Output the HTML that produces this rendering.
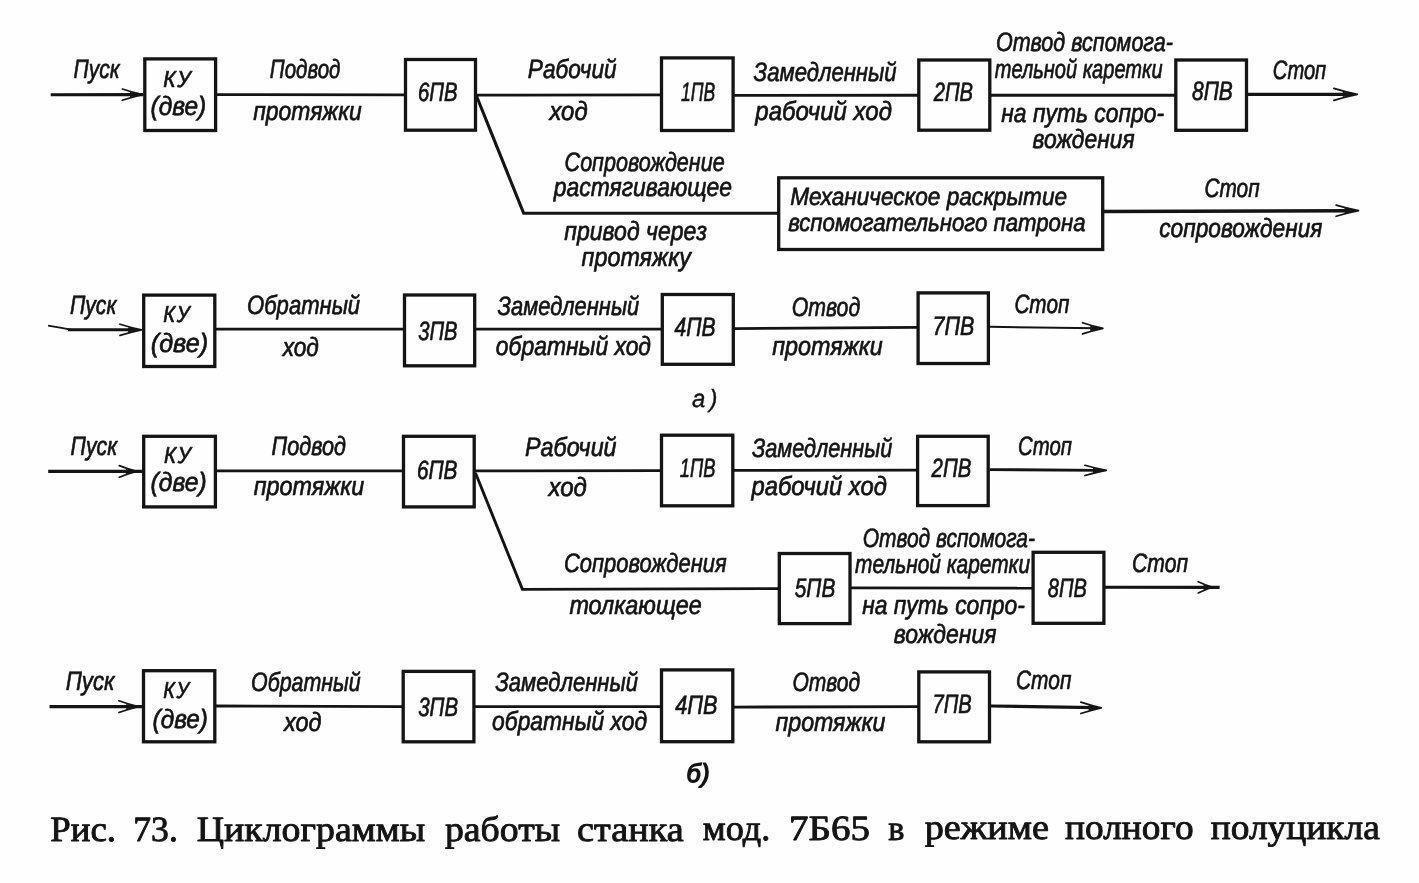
<!DOCTYPE html>
<html lang="ru">
<head>
<meta charset="utf-8">
<title>Рис. 73. Циклограммы работы станка мод. 7Б65</title>
<style>
html,body{margin:0;padding:0;background:#fefefe;}
body{width:1419px;height:883px;overflow:hidden;}
svg{display:block;filter:blur(0.45px);}
</style>
</head>
<body>
<svg width="1419" height="883" viewBox="0 0 1419 883" text-rendering="geometricPrecision">
<rect x="0" y="0" width="1419" height="883" fill="#fefefe"/>
<g fill="none" stroke="#141414" stroke-linejoin="miter" stroke-linecap="butt">
<rect x="144.8" y="58.9" width="70.8" height="71.6" stroke-width="3.3"/>
<rect x="405.5" y="59.5" width="70.0" height="70.7" stroke-width="3.3"/>
<rect x="661.5" y="57.9" width="71.6" height="72.6" stroke-width="3.3"/>
<rect x="918.8" y="60.0" width="71.0" height="70.2" stroke-width="3.3"/>
<rect x="1175.8" y="60.0" width="70.7" height="70.3" stroke-width="3.3"/>
<rect x="778.7" y="177.8" width="324.0" height="71.7" stroke-width="3.3"/>
<rect x="143.7" y="295.1" width="71.1" height="71.4" stroke-width="3.3"/>
<rect x="404.5" y="295.0" width="70.2" height="70.8" stroke-width="3.3"/>
<rect x="662.3" y="294.5" width="71.0" height="69.8" stroke-width="3.3"/>
<rect x="918.1" y="292.9" width="70.3" height="70.6" stroke-width="3.3"/>
<rect x="143.7" y="436.3" width="71.7" height="70.6" stroke-width="3.3"/>
<rect x="403.5" y="436.3" width="70.7" height="70.6" stroke-width="3.3"/>
<rect x="661.5" y="435.2" width="71.3" height="70.6" stroke-width="3.3"/>
<rect x="917.6" y="436.3" width="70.6" height="69.3" stroke-width="3.3"/>
<rect x="779.3" y="553.5" width="70.7" height="70.1" stroke-width="3.3"/>
<rect x="1033.1" y="552.3" width="70.8" height="71.0" stroke-width="3.3"/>
<rect x="143.5" y="670.7" width="71.3" height="71.1" stroke-width="3.3"/>
<rect x="403.2" y="671.4" width="70.7" height="70.4" stroke-width="3.3"/>
<rect x="661.5" y="669.9" width="71.3" height="71.8" stroke-width="3.3"/>
<rect x="918.8" y="671.9" width="70.7" height="69.9" stroke-width="3.3"/>
<polyline points="50.7,94.8 143.0,94.6" stroke-width="3.1"/>
<polyline points="216.0,94.6 405.0,94.8" stroke-width="2.8"/>
<polyline points="476.0,95.1 661.0,94.8" stroke-width="2.8"/>
<polyline points="733.0,95.4 918.0,95.3" stroke-width="2.9"/>
<polyline points="990.0,95.3 1175.0,95.3" stroke-width="2.9"/>
<polyline points="1247.0,94.4 1352.0,94.4" stroke-width="3.3"/>
<polyline points="476.3,95.5 523.7,213.3 778.0,213.3" stroke-width="3.1"/>
<polyline points="1103.4,211.6 1350.0,210.8" stroke-width="3.5"/>
<polyline points="48.1,325.6 60.0,327.6 71.0,329.6" stroke-width="1.8"/>
<polyline points="68.0,329.7 136.0,329.8" stroke-width="2.9"/>
<polyline points="215.6,329.1 404.0,329.1" stroke-width="2.9"/>
<polyline points="475.5,329.1 661.5,329.1" stroke-width="2.9"/>
<polyline points="734.0,328.6 918.0,327.3" stroke-width="2.8"/>
<polyline points="989.6,326.8 1097.0,328.2" stroke-width="2.0"/>
<polyline points="48.2,471.4 143.0,471.4" stroke-width="3.1"/>
<polyline points="216.0,470.9 403.0,470.9" stroke-width="2.8"/>
<polyline points="475.0,470.9 661.0,470.6" stroke-width="2.8"/>
<polyline points="733.6,470.4 917.0,470.2" stroke-width="2.8"/>
<polyline points="989.6,469.6 1100.0,470.4" stroke-width="2.9"/>
<polyline points="475.5,473.0 522.4,589.4 778.5,588.6" stroke-width="2.9"/>
<polyline points="850.8,587.8 1033.5,588.2" stroke-width="2.8"/>
<polyline points="1105.0,587.2 1219.6,587.4" stroke-width="3.1"/>
<polyline points="49.5,706.6 143.0,706.6" stroke-width="3.3"/>
<polyline points="215.6,706.0 402.4,706.6" stroke-width="2.9"/>
<polyline points="474.7,706.6 660.7,706.6" stroke-width="2.9"/>
<polyline points="733.6,707.1 918.0,706.6" stroke-width="2.8"/>
<polyline points="990.3,706.0 1095.0,707.6" stroke-width="3.1"/>
</g>
<g fill="#141414" stroke="#141414" stroke-width="1.7" stroke-linecap="round" stroke-linejoin="round">
<path d="M122.3,89.0 Q133.5,92.6 142.7,94.6 Q133.5,96.6 122.3,100.2" fill="none"/>
<path d="M130.1,92.0 L142.7,94.6 L130.1,97.2 Z" stroke="none"/>
<path d="M1333.9,88.4 Q1346.8,92.3 1357.3,94.4 Q1346.8,96.5 1333.9,100.4" fill="none"/>
<path d="M1342.8,91.8 L1357.3,94.4 L1342.8,97.0 Z" stroke="none"/>
<path d="M1336.1,205.1 Q1348.4,208.7 1358.5,210.7 Q1348.4,212.7 1336.1,216.3" fill="none"/>
<path d="M1344.6,208.1 L1358.5,210.7 L1344.6,213.3 Z" stroke="none"/>
<path d="M120.0,324.2 Q131.8,327.8 141.4,329.8 Q131.8,331.8 120.0,335.4" fill="none"/>
<path d="M128.1,327.2 L141.4,329.8 L128.1,332.4 Z" stroke="none"/>
<path d="M1082.5,322.7 Q1093.7,326.3 1102.9,328.3 Q1093.7,330.3 1082.5,333.9" fill="none"/>
<path d="M1090.3,325.7 L1102.9,328.3 L1090.3,330.9 Z" stroke="none"/>
<path d="M119.3,465.6 Q128.9,469.4 136.7,471.4 Q128.9,473.4 119.3,477.2" fill="none"/>
<path d="M125.9,468.8 L136.7,471.4 L125.9,474.0 Z" stroke="none"/>
<path d="M1084.9,465.3 Q1096.7,468.6 1106.3,470.4 Q1096.7,472.2 1084.9,475.5" fill="none"/>
<path d="M1093.0,467.8 L1106.3,470.4 L1093.0,473.0 Z" stroke="none"/>
<path d="M1198.2,581.7 Q1206.1,585.3 1212.6,587.3 Q1206.1,589.3 1198.2,592.9" fill="none"/>
<path d="M1203.7,584.7 L1212.6,587.3 L1203.7,589.9 Z" stroke="none"/>
<path d="M118.9,700.7 Q129.6,704.5 138.3,706.6 Q129.6,708.7 118.9,712.5" fill="none"/>
<path d="M126.3,704.0 L138.3,706.6 L126.3,709.2 Z" stroke="none"/>
<path d="M1080.8,702.1 Q1092.0,705.8 1101.2,707.8 Q1092.0,709.8 1080.8,713.5" fill="none"/>
<path d="M1088.6,705.2 L1101.2,707.8 L1088.6,710.4 Z" stroke="none"/>
</g>
<g fill="#141414" opacity="0.999" stroke-linejoin="round">
<text transform="translate(73.60,77.70) scale(0.7915,1)" font-family='"Liberation Sans", sans-serif' font-size="26.5" font-style="italic" stroke="#141414" stroke-width="0.7" xml:space="preserve">Пуск</text>
<text transform="translate(163.14,86.80) scale(0.9125,1)" font-family='"Liberation Sans", sans-serif' font-size="23" font-style="italic" letter-spacing="2" stroke="#141414" stroke-width="0.7" xml:space="preserve">КУ</text>
<text transform="translate(150.58,114.60) scale(0.9224,1)" font-family='"Liberation Sans", sans-serif' font-size="26.5" font-style="italic" stroke="#141414" stroke-width="0.7" xml:space="preserve">(две)</text>
<text transform="translate(269.81,78.40) scale(0.7734,1)" font-family='"Liberation Sans", sans-serif' font-size="26.5" font-style="italic" stroke="#141414" stroke-width="0.7" xml:space="preserve">Подвод</text>
<text transform="translate(253.20,119.70) scale(0.8647,1)" font-family='"Liberation Sans", sans-serif' font-size="26.5" font-style="italic" stroke="#141414" stroke-width="0.7" xml:space="preserve">протяжки</text>
<text transform="translate(417.94,101.40) scale(0.7658,1)" font-family='"Liberation Sans", sans-serif' font-size="26.5" font-style="italic" stroke="#141414" stroke-width="0.7" xml:space="preserve">6ПВ</text>
<text transform="translate(527.87,78.40) scale(0.8523,1)" font-family='"Liberation Sans", sans-serif' font-size="26.5" font-style="italic" stroke="#141414" stroke-width="0.7" xml:space="preserve">Рабочий</text>
<text transform="translate(549.43,120.20) scale(0.9023,1)" font-family='"Liberation Sans", sans-serif' font-size="26.5" font-style="italic" stroke="#141414" stroke-width="0.7" xml:space="preserve">ход</text>
<text transform="translate(681.03,100.90) scale(0.6621,1)" font-family='"Liberation Sans", sans-serif' font-size="26.5" font-style="italic" stroke="#141414" stroke-width="0.7" xml:space="preserve">1ПВ</text>
<text transform="translate(753.60,80.60) scale(0.8345,1)" font-family='"Liberation Sans", sans-serif' font-size="26.5" font-style="italic" stroke="#141414" stroke-width="0.7" xml:space="preserve">Замедленный</text>
<text transform="translate(755.31,119.80) scale(0.9058,1)" font-family='"Liberation Sans", sans-serif' font-size="26.5" font-style="italic" stroke="#141414" stroke-width="0.7" xml:space="preserve">рабочий ход</text>
<text transform="translate(933.68,101.10) scale(0.7631,1)" font-family='"Liberation Sans", sans-serif' font-size="26.5" font-style="italic" stroke="#141414" stroke-width="0.7" xml:space="preserve">2ПВ</text>
<text transform="translate(995.89,50.90) scale(0.8129,1)" font-family='"Liberation Sans", sans-serif' font-size="26.5" font-style="italic" stroke="#141414" stroke-width="0.7" xml:space="preserve">Отвод вспомога-</text>
<text transform="translate(994.70,78.40) scale(0.7567,1)" font-family='"Liberation Sans", sans-serif' font-size="26.5" font-style="italic" stroke="#141414" stroke-width="0.7" xml:space="preserve">тельной каретки</text>
<text transform="translate(1001.30,121.70) scale(0.8621,1)" font-family='"Liberation Sans", sans-serif' font-size="26.5" font-style="italic" stroke="#141414" stroke-width="0.7" xml:space="preserve">на путь сопро-</text>
<text transform="translate(1032.58,147.90) scale(0.8610,1)" font-family='"Liberation Sans", sans-serif' font-size="26.5" font-style="italic" stroke="#141414" stroke-width="0.7" xml:space="preserve">вождения</text>
<text transform="translate(1192.00,99.60) scale(0.7901,1)" font-family='"Liberation Sans", sans-serif' font-size="26.5" font-style="italic" stroke="#141414" stroke-width="0.7" xml:space="preserve">8ПВ</text>
<text transform="translate(1272.85,78.60) scale(0.7593,1)" font-family='"Liberation Sans", sans-serif' font-size="26.5" font-style="italic" stroke="#141414" stroke-width="0.7" xml:space="preserve">Стоп</text>
<text transform="translate(564.58,170.50) scale(0.8123,1)" font-family='"Liberation Sans", sans-serif' font-size="26.5" font-style="italic" stroke="#141414" stroke-width="0.7" xml:space="preserve">Сопровождение</text>
<text transform="translate(553.86,196.30) scale(0.8634,1)" font-family='"Liberation Sans", sans-serif' font-size="26.5" font-style="italic" stroke="#141414" stroke-width="0.7" xml:space="preserve">растягивающее</text>
<text transform="translate(564.30,239.70) scale(0.8691,1)" font-family='"Liberation Sans", sans-serif' font-size="26.5" font-style="italic" stroke="#141414" stroke-width="0.7" xml:space="preserve">привод через</text>
<text transform="translate(581.60,266.10) scale(0.8811,1)" font-family='"Liberation Sans", sans-serif' font-size="26.5" font-style="italic" stroke="#141414" stroke-width="0.7" xml:space="preserve">протяжку</text>
<text transform="translate(790.25,204.70) scale(0.9043,1)" font-family='"Liberation Sans", sans-serif' font-size="25" font-style="italic" stroke="#141414" stroke-width="0.7" xml:space="preserve">Механическое раскрытие</text>
<text transform="translate(788.18,231.40) scale(0.8874,1)" font-family='"Liberation Sans", sans-serif' font-size="25" font-style="italic" stroke="#141414" stroke-width="0.7" xml:space="preserve">вспомогательного патрона</text>
<text transform="translate(1204.42,196.50) scale(0.7855,1)" font-family='"Liberation Sans", sans-serif' font-size="26.5" font-style="italic" stroke="#141414" stroke-width="0.7" xml:space="preserve">Стоп</text>
<text transform="translate(1159.27,237.40) scale(0.8559,1)" font-family='"Liberation Sans", sans-serif' font-size="26.5" font-style="italic" stroke="#141414" stroke-width="0.7" xml:space="preserve">сопровождения</text>
<text transform="translate(69.90,314.00) scale(0.7983,1)" font-family='"Liberation Sans", sans-serif' font-size="26.5" font-style="italic" stroke="#141414" stroke-width="0.7" xml:space="preserve">Пуск</text>
<text transform="translate(163.16,322.10) scale(0.8719,1)" font-family='"Liberation Sans", sans-serif' font-size="23" font-style="italic" letter-spacing="2" stroke="#141414" stroke-width="0.7" xml:space="preserve">КУ</text>
<text transform="translate(150.75,351.80) scale(0.9500,1)" font-family='"Liberation Sans", sans-serif' font-size="26.5" font-style="italic" stroke="#141414" stroke-width="0.7" xml:space="preserve">(две)</text>
<text transform="translate(247.07,314.40) scale(0.8319,1)" font-family='"Liberation Sans", sans-serif' font-size="26.5" font-style="italic" stroke="#141414" stroke-width="0.7" xml:space="preserve">Обратный</text>
<text transform="translate(282.67,355.80) scale(0.8558,1)" font-family='"Liberation Sans", sans-serif' font-size="26.5" font-style="italic" stroke="#141414" stroke-width="0.7" xml:space="preserve">ход</text>
<text transform="translate(418.21,339.70) scale(0.7606,1)" font-family='"Liberation Sans", sans-serif' font-size="26.5" font-style="italic" stroke="#141414" stroke-width="0.7" xml:space="preserve">3ПВ</text>
<text transform="translate(497.60,315.10) scale(0.8263,1)" font-family='"Liberation Sans", sans-serif' font-size="26.5" font-style="italic" stroke="#141414" stroke-width="0.7" xml:space="preserve">Замедленный</text>
<text transform="translate(495.87,354.50) scale(0.8632,1)" font-family='"Liberation Sans", sans-serif' font-size="26.5" font-style="italic" stroke="#141414" stroke-width="0.7" xml:space="preserve">обратный ход</text>
<text transform="translate(674.40,335.50) scale(0.7961,1)" font-family='"Liberation Sans", sans-serif' font-size="26.5" font-style="italic" stroke="#141414" stroke-width="0.7" xml:space="preserve">4ПВ</text>
<text transform="translate(791.70,315.90) scale(0.8024,1)" font-family='"Liberation Sans", sans-serif' font-size="26.5" font-style="italic" stroke="#141414" stroke-width="0.7" xml:space="preserve">Отвод</text>
<text transform="translate(772.20,354.50) scale(0.8806,1)" font-family='"Liberation Sans", sans-serif' font-size="26.5" font-style="italic" stroke="#141414" stroke-width="0.7" xml:space="preserve">протяжки</text>
<text transform="translate(932.47,335.40) scale(0.8103,1)" font-family='"Liberation Sans", sans-serif' font-size="26.5" font-style="italic" stroke="#141414" stroke-width="0.7" xml:space="preserve">7ПВ</text>
<text transform="translate(1014.42,312.60) scale(0.7811,1)" font-family='"Liberation Sans", sans-serif' font-size="26.5" font-style="italic" stroke="#141414" stroke-width="0.7" xml:space="preserve">Стоп</text>
<text transform="translate(691.92,406.50) scale(0.9560,1)" font-family='"Liberation Sans", sans-serif' font-size="25" font-style="italic" letter-spacing="4.5" stroke="#141414" stroke-width="0.4" xml:space="preserve">а)</text>
<text transform="translate(70.60,454.60) scale(0.8000,1)" font-family='"Liberation Sans", sans-serif' font-size="26.5" font-style="italic" stroke="#141414" stroke-width="0.7" xml:space="preserve">Пуск</text>
<text transform="translate(163.96,462.80) scale(0.8875,1)" font-family='"Liberation Sans", sans-serif' font-size="23" font-style="italic" letter-spacing="2" stroke="#141414" stroke-width="0.7" xml:space="preserve">КУ</text>
<text transform="translate(150.57,491.10) scale(0.9310,1)" font-family='"Liberation Sans", sans-serif' font-size="26.5" font-style="italic" stroke="#141414" stroke-width="0.7" xml:space="preserve">(две)</text>
<text transform="translate(271.59,454.70) scale(0.8144,1)" font-family='"Liberation Sans", sans-serif' font-size="26.5" font-style="italic" stroke="#141414" stroke-width="0.7" xml:space="preserve">Подвод</text>
<text transform="translate(253.70,494.70) scale(0.8806,1)" font-family='"Liberation Sans", sans-serif' font-size="26.5" font-style="italic" stroke="#141414" stroke-width="0.7" xml:space="preserve">протяжки</text>
<text transform="translate(416.92,478.80) scale(0.7859,1)" font-family='"Liberation Sans", sans-serif' font-size="26.5" font-style="italic" stroke="#141414" stroke-width="0.7" xml:space="preserve">6ПВ</text>
<text transform="translate(525.06,455.80) scale(0.8794,1)" font-family='"Liberation Sans", sans-serif' font-size="26.5" font-style="italic" stroke="#141414" stroke-width="0.7" xml:space="preserve">Рабочий</text>
<text transform="translate(548.44,495.70) scale(0.9093,1)" font-family='"Liberation Sans", sans-serif' font-size="26.5" font-style="italic" stroke="#141414" stroke-width="0.7" xml:space="preserve">ход</text>
<text transform="translate(679.83,477.40) scale(0.6897,1)" font-family='"Liberation Sans", sans-serif' font-size="26.5" font-style="italic" stroke="#141414" stroke-width="0.7" xml:space="preserve">1ПВ</text>
<text transform="translate(751.90,456.90) scale(0.8193,1)" font-family='"Liberation Sans", sans-serif' font-size="26.5" font-style="italic" stroke="#141414" stroke-width="0.7" xml:space="preserve">Замедленный</text>
<text transform="translate(751.50,495.00) scale(0.8972,1)" font-family='"Liberation Sans", sans-serif' font-size="26.5" font-style="italic" stroke="#141414" stroke-width="0.7" xml:space="preserve">рабочий ход</text>
<text transform="translate(931.58,477.20) scale(0.7689,1)" font-family='"Liberation Sans", sans-serif' font-size="26.5" font-style="italic" stroke="#141414" stroke-width="0.7" xml:space="preserve">2ПВ</text>
<text transform="translate(1018.04,455.20) scale(0.7665,1)" font-family='"Liberation Sans", sans-serif' font-size="26.5" font-style="italic" stroke="#141414" stroke-width="0.7" xml:space="preserve">Стоп</text>
<text transform="translate(563.96,572.40) scale(0.8282,1)" font-family='"Liberation Sans", sans-serif' font-size="26.5" font-style="italic" stroke="#141414" stroke-width="0.7" xml:space="preserve">Сопровождения</text>
<text transform="translate(569.40,614.20) scale(0.8823,1)" font-family='"Liberation Sans", sans-serif' font-size="26.5" font-style="italic" stroke="#141414" stroke-width="0.7" xml:space="preserve">толкающее</text>
<text transform="translate(794.80,597.00) scale(0.7842,1)" font-family='"Liberation Sans", sans-serif' font-size="26.5" font-style="italic" stroke="#141414" stroke-width="0.7" xml:space="preserve">5ПВ</text>
<text transform="translate(862.71,547.00) scale(0.7908,1)" font-family='"Liberation Sans", sans-serif' font-size="26.5" font-style="italic" stroke="#141414" stroke-width="0.7" xml:space="preserve">Отвод вспомога-</text>
<text transform="translate(855.10,573.10) scale(0.7883,1)" font-family='"Liberation Sans", sans-serif' font-size="26.5" font-style="italic" stroke="#141414" stroke-width="0.7" xml:space="preserve">тельной каретки</text>
<text transform="translate(862.20,614.20) scale(0.8615,1)" font-family='"Liberation Sans", sans-serif' font-size="26.5" font-style="italic" stroke="#141414" stroke-width="0.7" xml:space="preserve">на путь сопро-</text>
<text transform="translate(893.78,642.90) scale(0.8661,1)" font-family='"Liberation Sans", sans-serif' font-size="26.5" font-style="italic" stroke="#141414" stroke-width="0.7" xml:space="preserve">вождения</text>
<text transform="translate(1047.81,596.50) scale(0.7567,1)" font-family='"Liberation Sans", sans-serif' font-size="26.5" font-style="italic" stroke="#141414" stroke-width="0.7" xml:space="preserve">8ПВ</text>
<text transform="translate(1132.10,572.40) scale(0.7971,1)" font-family='"Liberation Sans", sans-serif' font-size="26.5" font-style="italic" stroke="#141414" stroke-width="0.7" xml:space="preserve">Стоп</text>
<text transform="translate(65.78,689.60) scale(0.8374,1)" font-family='"Liberation Sans", sans-serif' font-size="26.5" font-style="italic" stroke="#141414" stroke-width="0.7" xml:space="preserve">Пуск</text>
<text transform="translate(163.17,698.10) scale(0.8500,1)" font-family='"Liberation Sans", sans-serif' font-size="23" font-style="italic" letter-spacing="2" stroke="#141414" stroke-width="0.7" xml:space="preserve">КУ</text>
<text transform="translate(152.58,727.90) scale(0.9190,1)" font-family='"Liberation Sans", sans-serif' font-size="26.5" font-style="italic" stroke="#141414" stroke-width="0.7" xml:space="preserve">(две)</text>
<text transform="translate(250.99,690.60) scale(0.8074,1)" font-family='"Liberation Sans", sans-serif' font-size="26.5" font-style="italic" stroke="#141414" stroke-width="0.7" xml:space="preserve">Обратный</text>
<text transform="translate(284.00,730.70) scale(0.8837,1)" font-family='"Liberation Sans", sans-serif' font-size="26.5" font-style="italic" stroke="#141414" stroke-width="0.7" xml:space="preserve">ход</text>
<text transform="translate(418.21,715.90) scale(0.7744,1)" font-family='"Liberation Sans", sans-serif' font-size="26.5" font-style="italic" stroke="#141414" stroke-width="0.7" xml:space="preserve">3ПВ</text>
<text transform="translate(495.30,690.80) scale(0.8327,1)" font-family='"Liberation Sans", sans-serif' font-size="26.5" font-style="italic" stroke="#141414" stroke-width="0.7" xml:space="preserve">Замедленный</text>
<text transform="translate(492.07,729.70) scale(0.8627,1)" font-family='"Liberation Sans", sans-serif' font-size="26.5" font-style="italic" stroke="#141414" stroke-width="0.7" xml:space="preserve">обратный ход</text>
<text transform="translate(675.20,714.00) scale(0.8195,1)" font-family='"Liberation Sans", sans-serif' font-size="26.5" font-style="italic" stroke="#141414" stroke-width="0.7" xml:space="preserve">4ПВ</text>
<text transform="translate(792.41,690.60) scale(0.7940,1)" font-family='"Liberation Sans", sans-serif' font-size="26.5" font-style="italic" stroke="#141414" stroke-width="0.7" xml:space="preserve">Отвод</text>
<text transform="translate(775.50,730.70) scale(0.8750,1)" font-family='"Liberation Sans", sans-serif' font-size="26.5" font-style="italic" stroke="#141414" stroke-width="0.7" xml:space="preserve">протяжки</text>
<text transform="translate(932.60,713.40) scale(0.7588,1)" font-family='"Liberation Sans", sans-serif' font-size="26.5" font-style="italic" stroke="#141414" stroke-width="0.7" xml:space="preserve">7ПВ</text>
<text transform="translate(1016.01,689.30) scale(0.7884,1)" font-family='"Liberation Sans", sans-serif' font-size="26.5" font-style="italic" stroke="#141414" stroke-width="0.7" xml:space="preserve">Стоп</text>
<text transform="translate(686.57,781.90) scale(0.9708,1)" font-family='"Liberation Sans", sans-serif' font-size="26" font-style="italic" letter-spacing="0.5" stroke="#141414" stroke-width="1.4" xml:space="preserve">б)</text>
<text transform="translate(50.18,841.10) scale(1.0377,1)" font-family='"Liberation Serif", serif' font-size="35.5" stroke="#141414" stroke-width="0.9" xml:space="preserve">Рис.</text>
<text transform="translate(133.30,841.10) scale(1.0025,1)" font-family='"Liberation Serif", serif' font-size="35.5" stroke="#141414" stroke-width="0.9" xml:space="preserve">73.</text>
<text transform="translate(196.67,841.00) scale(1.0664,1)" font-family='"Liberation Serif", serif' font-size="35.5" stroke="#141414" stroke-width="0.9" xml:space="preserve">Циклограммы</text>
<text transform="translate(444.93,840.80) scale(1.0642,1)" font-family='"Liberation Serif", serif' font-size="35.5" stroke="#141414" stroke-width="0.9" xml:space="preserve">работы</text>
<text transform="translate(577.12,840.50) scale(1.0765,1)" font-family='"Liberation Serif", serif' font-size="35.5" stroke="#141414" stroke-width="0.9" xml:space="preserve">станка</text>
<text transform="translate(702.79,840.20) scale(1.0196,1)" font-family='"Liberation Serif", serif' font-size="35.5" stroke="#141414" stroke-width="0.9" xml:space="preserve">мод.</text>
<text transform="translate(789.10,840.00) scale(1.0996,1)" font-family='"Liberation Serif", serif' font-size="35.5" stroke="#141414" stroke-width="0.9" xml:space="preserve">7Б65</text>
<text transform="translate(888.16,839.70) scale(0.9651,1)" font-family='"Liberation Serif", serif' font-size="35.5" stroke="#141414" stroke-width="0.9" xml:space="preserve">в</text>
<text transform="translate(924.63,839.30) scale(1.0783,1)" font-family='"Liberation Serif", serif' font-size="35.5" stroke="#141414" stroke-width="0.9" xml:space="preserve">режиме</text>
<text transform="translate(1065.04,839.00) scale(1.0521,1)" font-family='"Liberation Serif", serif' font-size="35.5" stroke="#141414" stroke-width="0.9" xml:space="preserve">полного</text>
<text transform="translate(1210.64,838.60) scale(1.0546,1)" font-family='"Liberation Serif", serif' font-size="35.5" stroke="#141414" stroke-width="0.9" xml:space="preserve">полуцикла</text>
</g>
</svg>
</body>
</html>
